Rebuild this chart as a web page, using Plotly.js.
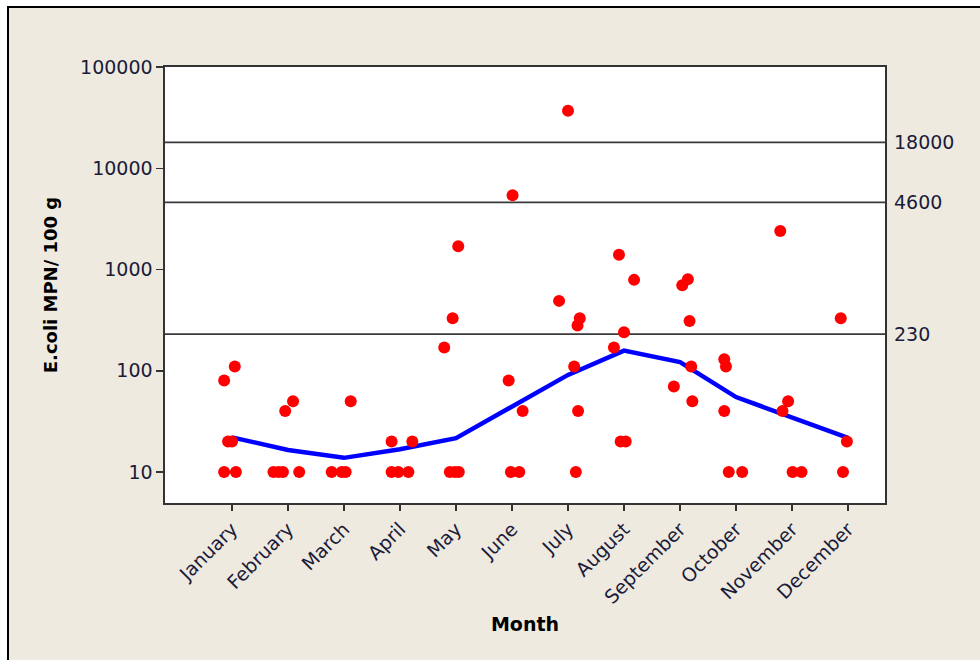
<!DOCTYPE html>
<html>
<head>
<meta charset="utf-8">
<script src="https://cdn.plot.ly/plotly-3.0.1.min.js"></script>
<style>
  html, body { margin: 0; padding: 0; background: #ffffff; width: 980px; height: 660px; overflow: hidden; }
  #frame { position: absolute; left: 7px; top: 6px; width: 980px; height: 660px; background: #EEEAE0; border-left: 2px solid #000; border-top: 2px solid #000; }
  #chart { position: absolute; left: 0; top: 0; width: 980px; height: 660px; }
</style>
</head>
<body>
<div id="frame"></div>
<div id="chart"></div>
<script>
// Month categories
const months = ['January','February','March','April','May','June','July','August','September','October','November','December'];

// Individual samples: month number, E.coli MPN/100 g value, horizontal jitter (in month units) as seen in the picture
const pointMonths = [
  1,1,1,1,1,1,
  2,2,2,2,2,2,
  3,3,3,3,
  4,4,4,4,4,
  5,5,5,5,5,5,
  6,6,6,6,6,
  7,7,7,7,7,7,7,
  8,8,8,8,8,8,
  9,9,9,9,9,9,
  10,10,10,10,10,
  11,11,11,11,11,
  12,12,12
];
const pointValues = [
  80,110,20,20,10,10,
  40,50,10,10,10,10,
  50,10,10,10,
  20,20,10,10,10,
  170,330,1700,10,10,10,
  5400,80,40,10,10,
  37000,490,330,280,110,40,10,
  1400,790,240,170,20,20,
  70,700,800,310,110,50,
  130,110,40,10,10,
  2400,50,40,10,10,
  330,20,10
];
const pointJitter = [
  -0.14,0.05,-0.07,0.0,-0.14,0.07,
  -0.05,0.09,-0.26,-0.17,-0.09,0.20,
  0.12,-0.22,-0.04,0.03,
  -0.15,0.22,-0.15,-0.03,0.15,
  -0.21,-0.06,0.04,-0.11,-0.02,0.05,
  0.01,-0.06,0.19,-0.02,0.13,
  0.0,-0.16,0.21,0.17,0.11,0.18,0.14,
  -0.09,0.18,0.0,-0.18,-0.06,0.03,
  -0.11,0.04,0.14,0.17,0.20,0.22,
  -0.21,-0.18,-0.21,-0.13,0.11,
  -0.21,-0.07,-0.17,0.01,0.17,
  -0.13,-0.02,-0.09
];

// Connect line (monthly central value)
const lineValues = [22, 16.5, 13.8, 16.8, 21.6, 44, 91, 158, 122, 55, 35, 21.7];

// Reference limits
const refLevels = [18000, 4600, 230];
const refLabels = ['18000', '4600', '230'];

// Y ticks
const yTickVals = [10, 100, 1000, 10000, 100000];
const yTickText = ['10', '100', '1000', '10000', '100000'];

const monthNums = months.map((m, i) => i + 1);
const pointX = pointMonths.map((m, i) => m + pointJitter[i]);

const font = 'DejaVu Sans, Verdana, sans-serif';
const tickColor = '#1b1b3a';

const traces = [
  {
    type: 'scatter', mode: 'lines',
    x: monthNums, y: lineValues,
    line: { color: '#0000FF', width: 4.5 },
    hoverinfo: 'skip', showlegend: false
  },
  {
    type: 'scatter', mode: 'markers',
    x: pointX, y: pointValues,
    marker: { color: '#FF0000', size: 12, line: { width: 0 } },
    showlegend: false
  }
];

const shapes = refLevels.map(v => ({
  type: 'line', xref: 'paper', x0: 0, x1: 1, yref: 'y', y0: v, y1: v,
  line: { color: '#3a3a3a', width: 1.6 }, layer: 'below'
}));

const annotations = refLevels.map((v, i) => ({
  xref: 'paper', x: 1, xanchor: 'left', xshift: 7,
  yref: 'y', y: Math.log10(v), yanchor: 'middle',
  text: refLabels[i], showarrow: false,
  font: { family: font, size: 19, color: tickColor }
}));

const layout = {
  width: 980, height: 660,
  paper_bgcolor: 'rgba(0,0,0,0)',
  plot_bgcolor: '#FFFFFF',
  margin: { l: 165, r: 95, t: 67, b: 157, pad: 0 },
  showlegend: false,
  font: { family: font, size: 19, color: tickColor },
  xaxis: {
    type: 'linear',
    range: [-0.196, 12.66],
    tickmode: 'array', tickvals: monthNums, ticktext: months,
    tickangle: -45,
    ticks: 'outside', ticklen: 6, tickwidth: 1.5, tickcolor: '#333',
    showgrid: false, zeroline: false,
    showline: true, linecolor: '#333', linewidth: 1.6, mirror: true,
    tickfont: { family: font, size: 19, color: tickColor },
    title: { text: 'Month', font: { family: font, size: 19, color: '#000', weight: 'bold' }, standoff: 11 },
    automargin: false
  },
  yaxis: {
    type: 'log',
    range: [0.694, 5],
    tickmode: 'array', tickvals: yTickVals, ticktext: yTickText,
    ticks: 'outside', ticklen: 7, tickwidth: 1.5, tickcolor: '#333',
    showgrid: false, zeroline: false,
    showline: true, linecolor: '#333', linewidth: 1.6, mirror: true,
    tickfont: { family: font, size: 19, color: tickColor },
    title: { text: 'E.coli MPN/ 100 g', font: { family: font, size: 18, color: '#000', weight: 'bold' }, standoff: 18 },
    automargin: false
  },
  shapes: shapes,
  annotations: annotations
};

Plotly.newPlot('chart', traces, layout, { displayModeBar: false, staticPlot: true });
</script>
</body>
</html>
